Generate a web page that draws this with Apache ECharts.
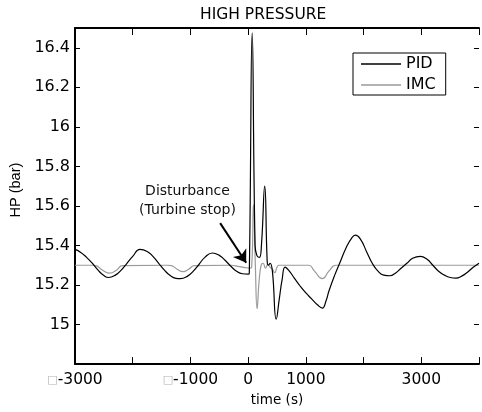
<!DOCTYPE html>
<html>
<head>
<meta charset="utf-8">
<script src="https://cdn.jsdelivr.net/npm/echarts@6/dist/echarts.min.js"></script>
<style>html,body{margin:0;padding:0;background:#fff}#c{width:482px;height:412px}</style>
</head>
<body>
<div id="c"></div>
<script>
// ---- data ----
const pidTime = [-3000,-2900,-2800,-2700,-2600,-2500,-2420,-2300,-2200,-2100,-2000,-1875,-1750,-1650,-1550,-1450,-1350,-1250,-1175,-1050,-950,-850,-750,-620,-500,-400,-300,-200,-100,0,
  20,70,120,150,195,230,287,330,350,380,420,487,540,590,640,700,800,900,1000,1100,1200,1285,1350,1400,1500,1600,1700,1800,1858,1950,2050,2150,2250,2350,2458,2550,2650,2750,2850,2983,3100,3200,3300,3400,3500,3600,3700,3800,3900,4000];
const pidValues = [15.38,15.365,15.34,15.31,15.275,15.248,15.238,15.25,15.275,15.31,15.345,15.38,15.37,15.345,15.31,15.275,15.248,15.234,15.232,15.245,15.27,15.305,15.34,15.362,15.35,15.325,15.295,15.27,15.257,15.255,
  15.26,16.475,15.40,15.35,15.34,15.40,15.70,15.32,15.30,15.31,15.27,15.027,15.13,15.23,15.29,15.275,15.235,15.195,15.16,15.13,15.10,15.083,15.12,15.17,15.25,15.32,15.39,15.44,15.452,15.43,15.37,15.31,15.27,15.25,15.247,15.26,15.285,15.31,15.335,15.345,15.33,15.30,15.27,15.25,15.238,15.235,15.245,15.265,15.29,15.31];
const imcTime = [-3000,-2700,-2640,-2520,-2400,-2280,-2180,-1400,-1330,-1230,-1130,-1030,-930,-300,-150,0,
  20,60,92,125,155,190,225,260,300,340,380,420,460,500,530,1050,1150,1285,1400,1520,4000];
const imcValues = [15.30,15.30,15.298,15.275,15.26,15.275,15.298,15.30,15.298,15.28,15.268,15.28,15.298,15.30,15.293,15.286,
  15.285,15.29,15.605,15.30,15.08,15.22,15.30,15.31,15.285,15.305,15.29,15.28,15.262,15.29,15.30,15.30,15.27,15.232,15.27,15.30,15.30];
const xTickLabels = [-3000, -1000, 0, 1000, 3000];
const yTickLabels = [15, 15.2, 15.4, 15.6, 15.8, 16, 16.2, 16.4];
const annotationText = ['Disturbance', '(Turbine stop)'];
const arrowFrom = [-485, 15.513];
const arrowTo = [-34, 15.313];
const annotationAt = [-1051, 15.625];

const FONT = 'DejaVu Sans';
const zip = (a, b) => a.map((v, i) => [v, b[i]]);

const chart = echarts.init(document.getElementById('c'), null, {renderer: 'canvas'});
const xCommon = {
  type: 'value', min: -3000, max: 4000, interval: 1000,
  splitLine: {show: false},
  axisLine: {show: true, onZero: false, lineStyle: {color: '#000', width: 2}},
  axisTick: {show: true, inside: true, length: 7, lineStyle: {color: '#000', width: 1}}
};
const yCommon = {
  type: 'value', min: 14.8, max: 16.5, interval: 0.2,
  splitLine: {show: false},
  axisTick: {show: true, inside: true, length: 5, lineStyle: {color: '#000', width: 1}}
};
chart.setOption({
  animation: false,
  backgroundColor: '#fff',
  title: {
    text: 'HIGH PRESSURE', left: 200, top: 7, padding: 0,
    textStyle: {fontFamily: FONT, fontSize: 15.5, fontWeight: 'normal', color: '#000'}
  },
  legend: {
    data: [{name: 'PID', icon: 'rect'}, {name: 'IMC', icon: 'rect'}],
    orient: 'vertical', left: 353, top: 53,
    padding: [3, 10, 2, 8], itemGap: 5, itemWidth: 40, itemHeight: 1.3,
    borderColor: '#000', borderWidth: 1, backgroundColor: '#fff',
    selectedMode: false,
    textStyle: {fontFamily: FONT, fontSize: 16, color: '#000'}
  },
  grid: {left: 75, right: 0, top: 28, bottom: 42, containLabel: false},
  xAxis: [
    Object.assign({}, xCommon, {
      position: 'bottom',
      name: 'time (s)', nameLocation: 'middle', nameGap: 21,
      nameTextStyle: {fontFamily: FONT, fontSize: 13.5, color: '#000'},
      axisLabel: {
        margin: 8, color: '#000', fontFamily: FONT, fontSize: 15.5,
        formatter: v => xTickLabels.includes(v) ? (v < 0 ? '{box|□}' + v : String(v)) : '',
        rich: {box: {color: '#b0b0b0', fontSize: 11, fontFamily: FONT}}
      }
    }),
    Object.assign({}, xCommon, {position: 'top', axisLabel: {show: false}})
  ],
  yAxis: [
    Object.assign({}, yCommon, {
      position: 'left',
      axisLine: {show: true, onZero: false, lineStyle: {color: '#000', width: 2}},
      name: 'HP (bar)', nameLocation: 'middle', nameGap: 48,
      nameTextStyle: {fontFamily: 'Liberation Sans', fontSize: 14.5, color: '#000', padding: [0, 0, 0, 12]},
      axisLabel: {
        margin: 5, color: '#000', fontFamily: FONT, fontSize: 16,
        formatter: v => {
          const r = Math.round(v * 10) / 10;
          return yTickLabels.some(t => Math.abs(t - r) < 1e-6) ? String(r) : '';
        }
      }
    }),
    Object.assign({}, yCommon, {
      position: 'right',
      axisLine: {show: false, onZero: false},
      axisLabel: {show: false}
    })
  ],
  series: [
    {
      name: 'PID', type: 'line', data: zip(pidTime, pidValues),
      symbol: 'none', smooth: 0.5,
      lineStyle: {color: '#000', width: 1.2}, itemStyle: {color: '#000'},
      z: 3,
      markLine: {
        silent: true, animation: false,
        symbol: ['none', 'arrow'], symbolSize: 12,
        label: {show: false},
        lineStyle: {color: '#000', width: 2, type: 'solid'},
        emphasis: {disabled: true},
        data: [[{coord: arrowFrom}, {coord: arrowTo}]]
      },
      markPoint: {
        silent: true, animation: false,
        symbol: 'circle', symbolSize: 0,
        label: {
          show: true, position: 'inside', formatter: annotationText.join('\n'),
          fontFamily: FONT, fontSize: 14, lineHeight: 19, color: '#111', align: 'center'
        },
        data: [{coord: annotationAt}]
      }
    },
    {
      name: 'IMC', type: 'line', data: zip(imcTime, imcValues),
      symbol: 'none', smooth: 0.5,
      lineStyle: {color: '#9a9a9a', width: 1.2}, itemStyle: {color: '#9a9a9a'},
      z: 2
    }
  ]
});
</script>
</body>
</html>
